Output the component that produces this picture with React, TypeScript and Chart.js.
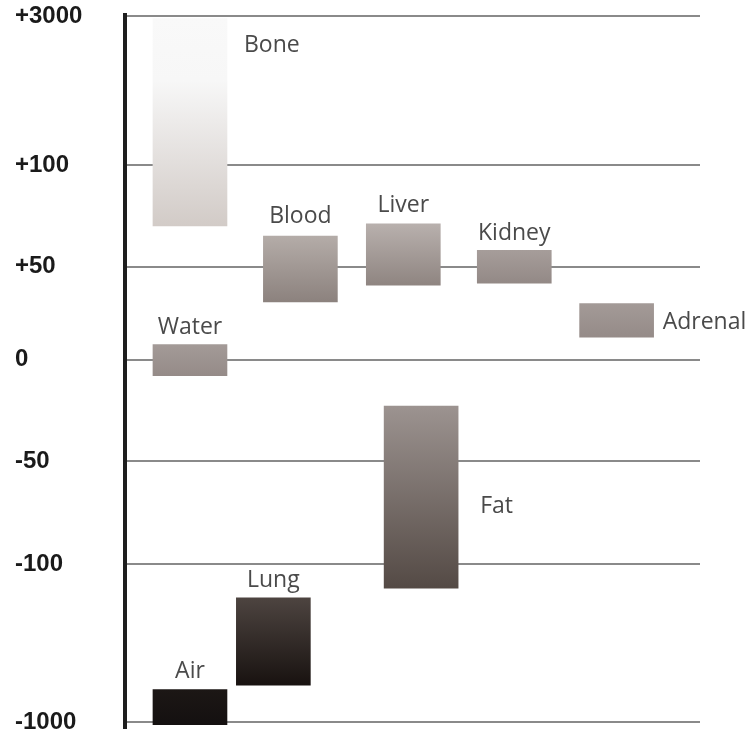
import React, { useEffect, useRef } from "react";
import { Chart, registerables, LinearScale } from "chart.js";

// ---------- data ----------
const TICK_VALUES = [-1000, -100, -50, 0, 50, 100, 3000];
const TICK_LABELS = ["-1000", "-100", "-50", "0", "+50", "+100", "+3000"];

const CATEGORIES = ["Bone", "Water", "Air", "Lung", "Blood", "Liver", "Fat", "Kidney", "Adrenal"];
const X_SLOTS = [1.13, 1.13, 1.13, 2.58, 3.05, 4.84, 5.15, 6.77, 8.55];
const HU_LOW = [70, -8, -1015, -790, 31, 40, -238, 41, 12];
const HU_HIGH = [2950, 8, -815, -293, 65, 71, -23, 58, 30];

// ---------- styles ----------
// relative visual weight of each band between ticks (bottom -> top)
const BAND_WEIGHTS = [158, 103, 101.5, 93, 101.5, 149];
const TOP_COLORS = ["#f9f9f9", "#a39a97", "#1c1715", "#4d4440", "#b4aca8", "#b8b0ad", "#9c9390", "#a69d9a", "#a39a97"];
const BOTTOM_COLORS = ["#d2cbc7", "#958b88", "#141010", "#181210", "#8c827e", "#8f8581", "#544a45", "#938986", "#958b88"];
const LABEL_PLACE: Record<string, { mode: string; dx: number; dy: number }> = {
  Bone: { mode: "rightTop", dx: 17, dy: 33 },
  Water: { mode: "top", dx: 0, dy: -11 },
  Air: { mode: "top", dx: 0, dy: -12 },
  Lung: { mode: "top", dx: 0, dy: -11 },
  Blood: { mode: "top", dx: 0, dy: -13 },
  Liver: { mode: "top", dx: 0, dy: -12 },
  Fat: { mode: "right", dx: 22, dy: 16 },
  Kidney: { mode: "top", dx: 0, dy: -10 },
  Adrenal: { mode: "right", dx: 9, dy: 9 },
};

const TOTAL_W = BAND_WEIGHTS.reduce((a, b) => a + b, 0);
function huToFrac(v: number): number {
  const n = TICK_VALUES.length;
  let i = 0;
  while (i < n - 2 && v > TICK_VALUES[i + 1]) i++;
  let cum = 0;
  for (let k = 0; k < i; k++) cum += BAND_WEIGHTS[k];
  const t = (v - TICK_VALUES[i]) / (TICK_VALUES[i + 1] - TICK_VALUES[i]);
  return (cum + t * BAND_WEIGHTS[i]) / TOTAL_W;
}
function fracToHu(f: number): number {
  const u = f * TOTAL_W;
  let cum = 0;
  for (let i = 0; i < BAND_WEIGHTS.length; i++) {
    if (u <= cum + BAND_WEIGHTS[i] || i === BAND_WEIGHTS.length - 1) {
      const t = (u - cum) / BAND_WEIGHTS[i];
      return TICK_VALUES[i] + t * (TICK_VALUES[i + 1] - TICK_VALUES[i]);
    }
    cum += BAND_WEIGHTS[i];
  }
  return TICK_VALUES[TICK_VALUES.length - 1];
}

class HuScale extends (LinearScale as any) {
  static id = "hu";
  static defaults = (LinearScale as any).defaults;
  determineDataLimits() {
    this.min = TICK_VALUES[0];
    this.max = TICK_VALUES[TICK_VALUES.length - 1];
  }
  buildTicks() {
    return TICK_VALUES.map((v) => ({ value: v }));
  }
  getPixelForValue(v: number) {
    return this.getPixelForDecimal(huToFrac(v));
  }
  getValueForPixel(p: number) {
    return fracToHu(this.getDecimalForPixel(p));
  }
}

Chart.register(...registerables, HuScale as any);

const labelPlugin = {
  id: "barLabels",
  afterDraw(chart: any) {
    const ctx = chart.ctx;
    const area = chart.chartArea;
    // axis line
    ctx.save();
    ctx.strokeStyle = "#1e1e1e";
    ctx.lineWidth = 4;
    ctx.beginPath();
    ctx.moveTo(area.left, area.top - 3);
    ctx.lineTo(area.left, chart.height);
    ctx.stroke();

    ctx.font = '23px "Open Sans"';
    ctx.fillStyle = "#4a4a4a";
    ctx.textBaseline = "alphabetic";
    const meta = chart.getDatasetMeta(0);
    meta.data.forEach((bar: any, i: number) => {
      const { x, y, base, width } = bar.getProps(["x", "y", "base", "width"], true);
      const top = Math.min(y, base);
      const bottom = Math.max(y, base);
      const p = LABEL_PLACE[CATEGORIES[i]];
      if (p.mode === "top") {
        ctx.textAlign = "center";
        ctx.fillText(CATEGORIES[i], x + p.dx, top + p.dy);
      } else if (p.mode === "rightTop") {
        ctx.textAlign = "left";
        ctx.fillText(CATEGORIES[i], x + width / 2 + p.dx, top + p.dy);
      } else {
        ctx.textAlign = "left";
        ctx.fillText(CATEGORIES[i], x + width / 2 + p.dx, (top + bottom) / 2 + p.dy);
      }
    });
    ctx.restore();
  },
};

const bgPlugin = {
  id: "whiteBg",
  beforeDraw(chart: any) {
    const ctx = chart.ctx;
    ctx.save();
    ctx.fillStyle = "#ffffff";
    ctx.fillRect(0, 0, chart.width, chart.height);
    ctx.restore();
  },
};

export default function App() {
  const ref = useRef<HTMLCanvasElement | null>(null);
  useEffect(() => {
    if (!ref.current) return;
    const chart = new Chart(ref.current, {
      type: "bar",
      data: {
        datasets: [
          {
            data: CATEGORIES.map((c, i) => ({ x: X_SLOTS[i], y: [HU_LOW[i], HU_HIGH[i]] })) as any,
            barThickness: 74,
            borderWidth: 0,
            clip: false as any,
            backgroundColor: (c: any) => {
              const i = c.dataIndex;
              if (i === undefined) return "#999";
              const chart = c.chart;
              const ys = chart.scales && chart.scales.y;
              if (!chart.chartArea || !ys) return TOP_COLORS[i];
              const yTop = ys.getPixelForValue(HU_HIGH[i]);
              const yBot = ys.getPixelForValue(HU_LOW[i]);
              const g = chart.ctx.createLinearGradient(0, yTop, 0, yBot);
              g.addColorStop(0, TOP_COLORS[i]);
              if (i === 0) g.addColorStop(0.3, "#f7f7f7");
              g.addColorStop(1, BOTTOM_COLORS[i]);
              return g;
            },
          },
        ],
      },
      options: {
        animation: false,
        responsive: false,
        devicePixelRatio: 1,
        events: [],
        layout: { padding: { left: 15, right: 52, top: 16, bottom: 7 } },
        plugins: { legend: { display: false }, tooltip: { enabled: false } },
        scales: {
          x: { type: "linear", min: 0, max: 10, display: false, offset: false },
          y: {
            type: "hu" as any,
            beginAtZero: false,
            border: { display: false },
            grid: { color: "#8a8a8a", lineWidth: 2, drawTicks: false },
            ticks: {
              autoSkip: false,
              crossAlign: "far",
              color: "#1a1a1a",
              font: { family: '"Liberation Sans", Arial, sans-serif', size: 24, weight: "bold" },
              callback: (_v: any, idx: number) => TICK_LABELS[idx],
            },
            afterFit: (s: any) => {
              s.width = 110;
              s.paddingTop = 0;
              s.paddingBottom = 0;
            },
          } as any,
        },
      },
      plugins: [bgPlugin, labelPlugin],
    });
    return () => chart.destroy();
  }, []);
  return (
    <div style={{ position: "fixed", left: 0, top: 0, width: 752, height: 729 }}>
      <canvas ref={ref} width={752} height={729} style={{ display: "block" }} />
    </div>
  );
}
